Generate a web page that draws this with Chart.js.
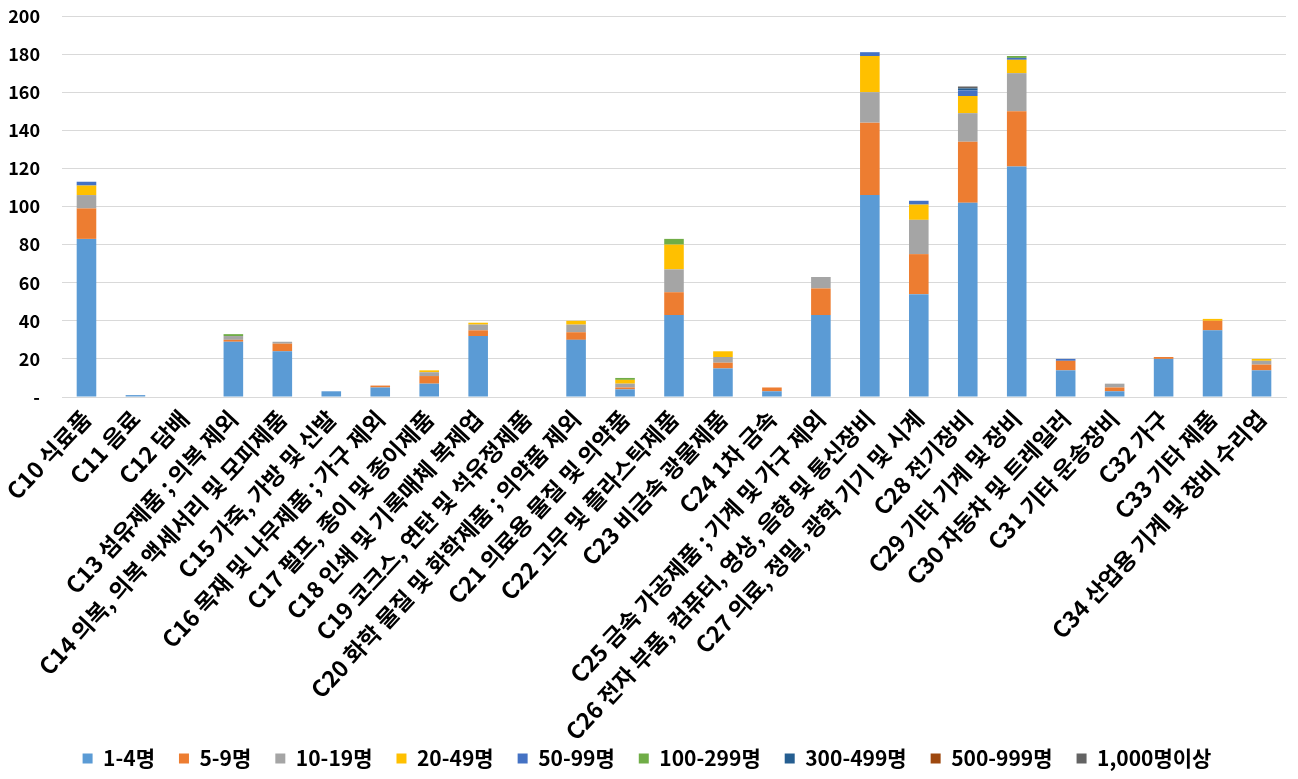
<!DOCTYPE html>
<html>
<head>
<meta charset="utf-8">
<script src="https://cdn.jsdelivr.net/npm/chart.js@4"></script>
<style>
  html, body { margin: 0; padding: 0; background: #fff; }
  #wrap { width: 1298px; height: 779px; position: relative; }
</style>
</head>
<body>
<div id="wrap"><canvas id="c"></canvas></div>
<script>
// categories (C10 ~ C34)
const categories = [
  'C10 식료품', 'C11 음료', 'C12 담배', 'C13 섬유제품 ; 의복 제외',
  'C14 의복, 의복 액세서리 및 모피제품', 'C15 가죽, 가방 및 신발',
  'C16 목재 및 나무제품 ; 가구 제외', 'C17 펄프, 종이 및 종이제품',
  'C18 인쇄 및 기록매체 복제업', 'C19 코크스, 연탄 및 석유정제품',
  'C20 화학 물질 및 화학제품 ; 의약품 제외', 'C21 의료용 물질 및 의약품',
  'C22 고무 및 플라스틱제품', 'C23 비금속 광물제품', 'C24 1차 금속',
  'C25 금속 가공제품 ; 기계 및 가구 제외', 'C26 전자 부품, 컴퓨터, 영상, 음향 및 통신장비',
  'C27 의료, 정밀, 광학 기기 및 시계', 'C28 전기장비', 'C29 기타 기계 및 장비',
  'C30 자동차 및 트레일러', 'C31 기타 운송장비', 'C32 가구', 'C33 기타 제품',
  'C34 산업용 기계 및 장비 수리업'
];

// size classes (employees)
const sizeLabels = ['1-4명', '5-9명', '10-19명', '20-49명', '50-99명',
  '100-299명', '300-499명', '500-999명', '1,000명이상'];

const s1to4     = [83, 1, 0, 29, 24, 3, 5, 7, 32, 0, 30, 4, 43, 15, 3, 43, 106, 54, 102, 121, 14, 3, 20, 35, 14];
const s5to9     = [16, 0, 0, 1, 4, 0, 1, 4, 3, 0, 4, 1, 12, 3, 2, 14, 38, 21, 32, 29, 5, 2, 1, 5, 3];
const s10to19   = [7, 0, 0, 2, 1, 0, 0, 2, 3, 0, 4, 2, 12, 3, 0, 6, 16, 18, 15, 20, 0, 2, 0, 0, 2];
const s20to49   = [5, 0, 0, 0, 0, 0, 0, 1, 1, 0, 2, 2, 13, 3, 0, 0, 19, 8, 9, 7, 0, 0, 0, 1, 1];
const s50to99   = [2, 0, 0, 0, 0, 0, 0, 0, 0, 0, 0, 0, 0, 0, 0, 0, 2, 2, 3, 1, 1, 0, 0, 0, 0];
const s100to299 = [0, 0, 0, 1, 0, 0, 0, 0, 0, 0, 0, 1, 3, 0, 0, 0, 0, 0, 0, 1, 0, 0, 0, 0, 0];
const s300to499 = [0, 0, 0, 0, 0, 0, 0, 0, 0, 0, 0, 0, 0, 0, 0, 0, 0, 0, 1, 0, 0, 0, 0, 0, 0];
const s500to999 = [0, 0, 0, 0, 0, 0, 0, 0, 0, 0, 0, 0, 0, 0, 0, 0, 0, 0, 0, 0, 0, 0, 0, 0, 0];
const s1000up   = [0, 0, 0, 0, 0, 0, 0, 0, 0, 0, 0, 0, 0, 0, 0, 0, 0, 0, 1, 0, 0, 0, 0, 0, 0];

const yTicks = [0, 20, 40, 60, 80, 100, 120, 140, 160, 180, 200];

const series = [s1to4, s5to9, s10to19, s20to49, s50to99, s100to299, s300to499, s500to999, s1000up];
const colors = ['#5B9BD5', '#ED7D31', '#A5A5A5', '#FFC000', '#4472C4',
  '#70AD47', '#255E91', '#9E480E', '#636363'];

const font = "'Noto Sans CJK KR', 'Noto Sans', sans-serif";
Chart.defaults.font.family = font;
Chart.defaults.font.weight = 'bold';
Chart.defaults.font.size = 18;
Chart.defaults.color = '#000';

// long rotated labels run past the axis box; stop them being clipped
const unclipLabels = {
  id: 'unclipLabels',
  afterLayout(chart) { chart.scales.x.bottom = chart.height; },
};

new Chart(document.getElementById('c'), {
  type: 'bar',
  data: {
    labels: categories,
    datasets: series.map((d, i) => ({
      label: sizeLabels[i], data: d, backgroundColor: colors[i],
      borderWidth: 0, categoryPercentage: 1, barPercentage: 0.4,
    })),
  },
  plugins: [unclipLabels],
  options: {
    responsive: true, maintainAspectRatio: false, animation: false,
    layout: { padding: { left: 8, right: 12, top: 16, bottom: 0 } },
    plugins: {
      legend: { position: 'bottom',
        labels: { boxWidth: 10, boxHeight: 10, padding: 24, font: { size: 21, weight: 'bold' } } },
      tooltip: { enabled: false },
    },
    scales: {
      x: { stacked: true,
        grid: { display: false },
        border: { color: '#d9d9d9' },
        afterFit: ax => { ax.height = 327; },
        ticks: { autoSkip: false, maxRotation: 47, minRotation: 47, padding: 0,
          font: { size: 23, weight: 'bold' } } },
      y: { stacked: true, min: 0, max: 200,
        afterBuildTicks: ax => { ax.ticks = yTicks.map(v => ({ value: v })); },
        afterFit: ax => { ax.width = 54; ax.paddingTop = 0; ax.paddingBottom = 0; },
        grid: { color: '#d9d9d9', drawTicks: false },
        border: { display: false },
        ticks: { padding: 22, callback: v => v === 0 ? '-' : v } },
    },
  },
});
</script>
</body>
</html>
